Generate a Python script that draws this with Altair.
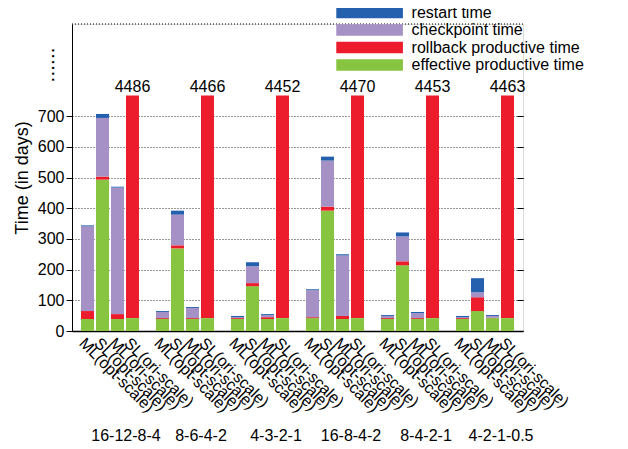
import altair as alt
import pandas as pd

groups = ["16-12-8-4", "8-6-4-2", "4-3-2-1", "16-8-4-2", "8-4-2-1", "4-2-1-0.5"]
configs = ["ML(opt-scale)", "SL(opt-scale)", "ML(ori-scale)", "SL(ori-scale)"]

# per group: values for bars in the order of `configs`
effective = [
    [39, 493, 39, 42],
    [39, 269, 39, 42],
    [39, 146, 39, 42],
    [42, 392, 39, 42],
    [39, 214, 39, 42],
    [39, 65, 42, 42],
]
rollback = [
    [26, 10, 16, 4444],
    [3, 10, 3, 4424],
    [3, 10, 6, 4410],
    [3, 13, 10, 4428],
    [3, 13, 3, 4411],
    [3, 45, 1, 4421],
]
checkpoint = [
    [276, 191, 412, 0],
    [20, 100, 33, 0],
    [3, 55, 7, 0],
    [88, 150, 197, 0],
    [7, 81, 16, 0],
    [3, 16, 6, 0],
]
restart = [
    [3, 13, 3, 0],
    [3, 13, 3, 0],
    [4, 13, 3, 0],
    [3, 13, 4, 0],
    [3, 13, 4, 0],
    [4, 46, 3, 0],
]
sl_ori_totals = [4486, 4466, 4452, 4470, 4453, 4463]

components = ["restart time", "checkpoint time", "rollback productive time", "effective productive time"]
colors = ["#2560AE", "#A591C5", "#ED1C2C", "#87C540"]

AXIS_BREAK = 767  # where the broken axis cuts tall bars

rows = []
for gi, g in enumerate(groups):
    for ci, c in enumerate(configs):
        base = 0
        for order, (name, arr) in enumerate([
            ("effective productive time", effective),
            ("rollback productive time", rollback),
            ("checkpoint time", checkpoint),
            ("restart time", restart),
        ]):
            v = arr[gi][ci]
            shown = max(0, min(v, AXIS_BREAK - base))
            base += shown
            rows.append({"group": g, "config": c, "component": name, "value": v,
                         "shown": shown, "ord": order})
df = pd.DataFrame(rows)

tot_df = pd.DataFrame({"group": groups, "config": [configs[3]] * len(groups),
                       "cap": [AXIS_BREAK] * len(groups),
                       "total": [str(t) for t in sl_ori_totals]})
lab_df = pd.DataFrame([{"group": g, "config": c} for g in groups for c in configs])

FONT = "Liberation Sans"

x_scale = alt.Scale(paddingInner=0.227, paddingOuter=0.12)
xo_scale = alt.Scale(paddingInner=0.133, paddingOuter=0)

x_enc = alt.X("group:N", sort=groups, scale=x_scale,
              axis=alt.Axis(title=None, ticks=False, labelAngle=0, labelPadding=96,
                            labelFontSize=16, labelOffset=16, labelColor="black",
                            domainColor="black", domainWidth=1.5, labelFont=FONT))
xo_enc = alt.XOffset("config:N", sort=configs, scale=xo_scale)
yscale = alt.Scale(domain=[0, 1000], nice=False, zero=True)

bars = alt.Chart(df).mark_bar().encode(
    x=x_enc,
    xOffset=xo_enc,
    y=alt.Y("shown:Q", stack="zero", scale=yscale,
            axis=alt.Axis(values=[0, 100, 200, 300, 400, 500, 600, 700],
                          title="Time (in days)", titleFontSize=18, titleFont=FONT,
                          titleFontWeight="normal", titleColor="black", titlePadding=6,
                          labelFontSize=16, labelFont=FONT, labelColor="black",
                          tickColor="black", tickSize=6, domainColor="black",
                          grid=True, gridDash=[1, 2], gridColor="#333333", gridWidth=1)),
    color=alt.Color("component:N", scale=alt.Scale(domain=components, range=colors),
                    legend=alt.Legend(title=None, orient="none", legendX=289.6, legendY=-19.5,
                                      symbolType="M-5.8,-1H5.8V1H-5.8Z", symbolSize=132,
                                      symbolStrokeWidth=0, labelOffset=34, rowPadding=1.5,
                                      labelLimit=0,
                                      labelFontSize=16, labelFont=FONT, labelColor="black")),
    order=alt.Order("ord:Q"),
)

x_txt = alt.X("group:N", sort=groups, scale=x_scale, bandPosition=0)
xo_txt = alt.XOffset("config:N", sort=configs, scale=xo_scale, bandPosition=0.5)

totals = alt.Chart(tot_df).mark_text(baseline="bottom", dy=-1, fontSize=16, font=FONT,
                                     color="black").encode(
    x=x_txt, xOffset=xo_txt,
    y=alt.Y("cap:Q", scale=yscale), text="total:N")

labels = alt.Chart(lab_df).mark_text(angle=45, align="left", baseline="top", fontSize=16,
                                     font=FONT, color="black").encode(
    x=x_txt, xOffset=xo_txt,
    y=alt.value(311), text="config:N")

dots = alt.Chart(pd.DataFrame({"t": ["......"]})).mark_text(
    angle=90, fontSize=21, font=FONT, color="black", baseline="alphabetic").encode(
    x=alt.value(-20), y=alt.value(41), text="t:N")

top_rule = alt.Chart(pd.DataFrame({"v": [1000]})).mark_rule(
    strokeDash=[1, 2], color="black").encode(
    y=alt.Y("v:Q", scale=yscale,
            axis=alt.Axis(orient="right", values=[0, 100, 200, 300, 400, 500, 600, 700],
                          labels=False, domain=False, grid=False, tickSize=6, offset=-6,
                          tickColor="black", title=None)))

inner = alt.layer(bars, totals, labels, dots)
chart = alt.layer(inner, top_rule).resolve_scale(y="independent").properties(
    width=451, height=307,
    autosize=alt.AutoSizeParams(type="none"),
    padding={"left": 64, "top": 16, "right": 97, "bottom": 110},
).configure_view(stroke=None).configure(font=FONT)

chart.save("out.html", embed_options={"renderer": "svg", "actions": False})
